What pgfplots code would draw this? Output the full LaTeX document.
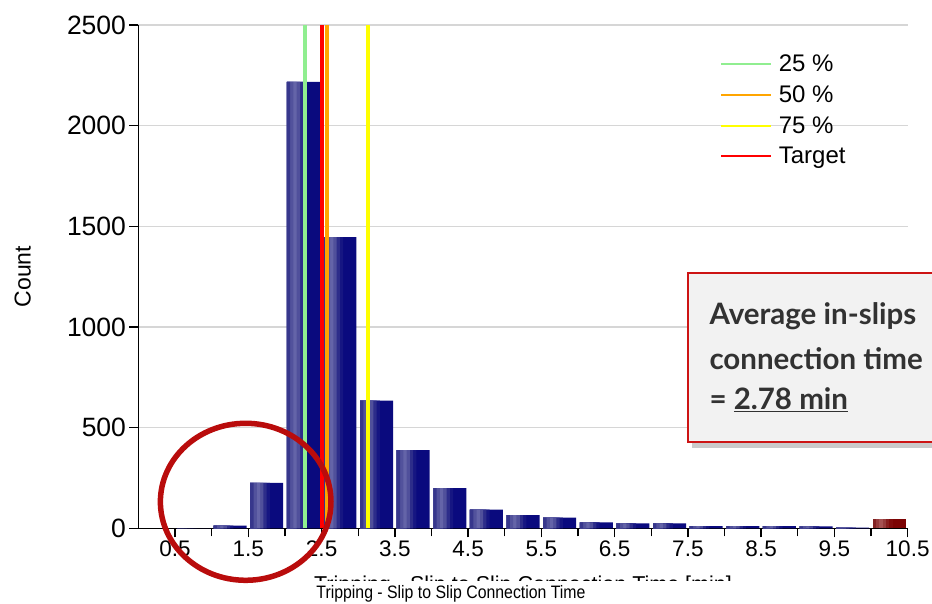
\documentclass[border=0pt]{standalone}
\usepackage{fontspec}
\setmainfont{Liberation Sans}
\newfontfamily\boxfont{Lato}
\usepackage{graphicx}
\usepackage{pgfplots}
\pgfplotsset{compat=1.18}
\usetikzlibrary{shadows}

% bar colours: dark navy with a lighter stripe on the left
\definecolor{nv0}{RGB}{55,55,140}
\definecolor{nv1}{RGB}{82,82,156}
\definecolor{nv2}{RGB}{100,100,168}
\definecolor{nv3}{RGB}{80,80,155}
\definecolor{nv4}{RGB}{45,45,138}
\definecolor{nv5}{RGB}{22,22,130}
\definecolor{bardark}{RGB}{10,10,126}
\definecolor{rd0}{RGB}{130,35,35}
\definecolor{rd1}{RGB}{150,60,60}
\definecolor{rd2}{RGB}{165,82,82}
\definecolor{rd3}{RGB}{150,60,60}
\definecolor{rd4}{RGB}{135,30,30}
\definecolor{rd5}{RGB}{128,12,12}
\definecolor{reddark}{RGB}{124,4,4}
\definecolor{gridgray}{RGB}{214,214,214}
\definecolor{ellred}{RGB}{185,12,12}
\definecolor{boxred}{RGB}{205,20,20}
\definecolor{boxgray}{RGB}{242,242,242}
\definecolor{boxtext}{RGB}{50,50,50}
\definecolor{q25}{RGB}{144,238,144}
\definecolor{q50}{RGB}{255,165,0}
\definecolor{q75}{RGB}{255,255,0}
\definecolor{target}{RGB}{255,0,0}

% histogram bins (centres), count per 0.5 min bin
\pgfplotstableread{
x     n
0.75  0
1.25  13
1.75  226
2.25  2218
2.75  1447
3.25  634
3.75  388
4.25  199
4.75  93
5.25  65
5.75  53
6.25  30
6.75  24
7.25  24
7.75  11
8.25  11
8.75  11
9.25  10
9.75  3
}\bins

% nested left-aligned layers: shift, width, colour
\pgfplotsset{
  layer/.style n args={3}{ybar, bar shift=#1, bar width=#2, fill=#3, draw=none, forget plot},
}

\begin{document}
\begin{tikzpicture}
\path[use as bounding box] (-138.5pt,-74.7pt) rectangle (793.5pt,528.3pt);
\begin{axis}[
    x=73.25pt, y=0.2013pt,
    xmin=0, xmax=10.5,
    ymin=0, ymax=2500,
    axis x line*=bottom,
    axis y line*=left,
    axis line style={black, line width=1.6pt},
    tick align=outside,
    major tick length=9pt,
    minor tick length=8pt,
    tick style={black, line width=1.3pt},
    xtick={0.5,1.5,...,10.5},
    minor xtick={1,2,...,10},
    ytick={0,500,...,2500},
    ymajorgrids,
    grid style={gridgray, line width=1.5pt},
    /pgf/number format/assume math mode=true,
    /pgf/number format/1000 sep={},
    xticklabel style={font=\fontsize{22.5}{24}\selectfont, /pgf/number format/fixed, /pgf/number format/precision=1, /pgf/number format/fixed zerofill},
    yticklabel style={font=\fontsize{26.5}{28}\selectfont},
    ylabel={Count},
    ylabel style={at={(axis description cs:-0.1505,0.5)}, anchor=center, font=\fontsize{23}{25}\selectfont},
    xlabel={\scalebox{0.88}[1]{Tripping - Slip to Slip Connection Time}},
    xlabel style={at={(axis description cs:0.4063,-0.1295)}, anchor=center, font=\fontsize{18}{20}\selectfont},
    legend style={at={(0.752,0.949)}, anchor=north west, draw=none, fill=none,
        font=\fontsize{24}{26}\selectfont, row sep=8.5pt},
    legend cell align=left,
    legend image code/.code={\draw[#1, line width=2pt] (0pt,0pt) -- (50pt,0pt); \path (54pt,0pt);},
]
% navy bars: dark body, then lighter layers from the left edge
\addplot[layer={0}{0.45}{bardark}] table[x=x, y=n] {\bins};
\addplot[layer={-0.09}{0.27}{nv5}] table[x=x, y=n] {\bins};
\addplot[layer={-0.1125}{0.225}{nv4}] table[x=x, y=n] {\bins};
\addplot[layer={-0.135}{0.18}{nv3}] table[x=x, y=n] {\bins};
\addplot[layer={-0.1575}{0.135}{nv2}] table[x=x, y=n] {\bins};
\addplot[layer={-0.18}{0.09}{nv1}] table[x=x, y=n] {\bins};
\addplot[layer={-0.2025}{0.045}{nv0}] table[x=x, y=n] {\bins};
% last bin (10 - 10.5) in dark red
\addplot[layer={0}{0.45}{reddark}] coordinates {(10.25,46)};
\addplot[layer={-0.09}{0.27}{rd5}] coordinates {(10.25,46)};
\addplot[layer={-0.1125}{0.225}{rd4}] coordinates {(10.25,46)};
\addplot[layer={-0.135}{0.18}{rd3}] coordinates {(10.25,46)};
\addplot[layer={-0.1575}{0.135}{rd2}] coordinates {(10.25,46)};
\addplot[layer={-0.18}{0.09}{rd1}] coordinates {(10.25,46)};
\addplot[layer={-0.2025}{0.045}{rd0}] coordinates {(10.25,46)};

\addplot[q25, line width=3.5pt] coordinates {(2.27,0) (2.27,2500)};
\addlegendentry{25 \%}
\addplot[q50, line width=3.5pt] coordinates {(2.57,0) (2.57,2500)};
\addlegendentry{50 \%}
\addplot[q75, line width=3.5pt] coordinates {(3.13,0) (3.13,2500)};
\addlegendentry{75 \%}
\addplot[target, line width=3.5pt] coordinates {(2.505,0) (2.505,2500)};
\addlegendentry{Target}
\end{axis}

% cropped original axis title
\begin{scope}
\clip (-138.5pt,-51.7pt) rectangle (793.5pt,-30pt);
\node[anchor=north, inner sep=0pt, font=\fontsize{21.5}{24}\selectfont] at (384.5pt,-47.2pt) {Tripping - Slip to Slip Connection Time [min]};
\end{scope}

% highlight of the short connections
\draw[ellred, line width=5.5pt] (107.2pt,26.5pt) ellipse [x radius=85.3pt, y radius=78.5pt];

% call-out box
\draw[boxred, line width=1.7pt, fill=boxgray,
      drop shadow={shadow xshift=4pt, shadow yshift=-6pt, opacity=0.35, fill=black!60}]
     (549.8pt,86pt) rectangle (830pt,255pt);
\begin{scope}[every node/.style={anchor=base west, inner sep=0pt, text=boxtext,
      font=\boxfont\bfseries\fontsize{29.5}{32}\selectfont}]
\node at (570.8pt,203.3pt) {Average in-slips};
\node at (570.8pt,159pt) {connection time};
\node at (570.8pt,118.3pt) {= \underline{2.78 min}};
\end{scope}
\end{tikzpicture}
\end{document}
